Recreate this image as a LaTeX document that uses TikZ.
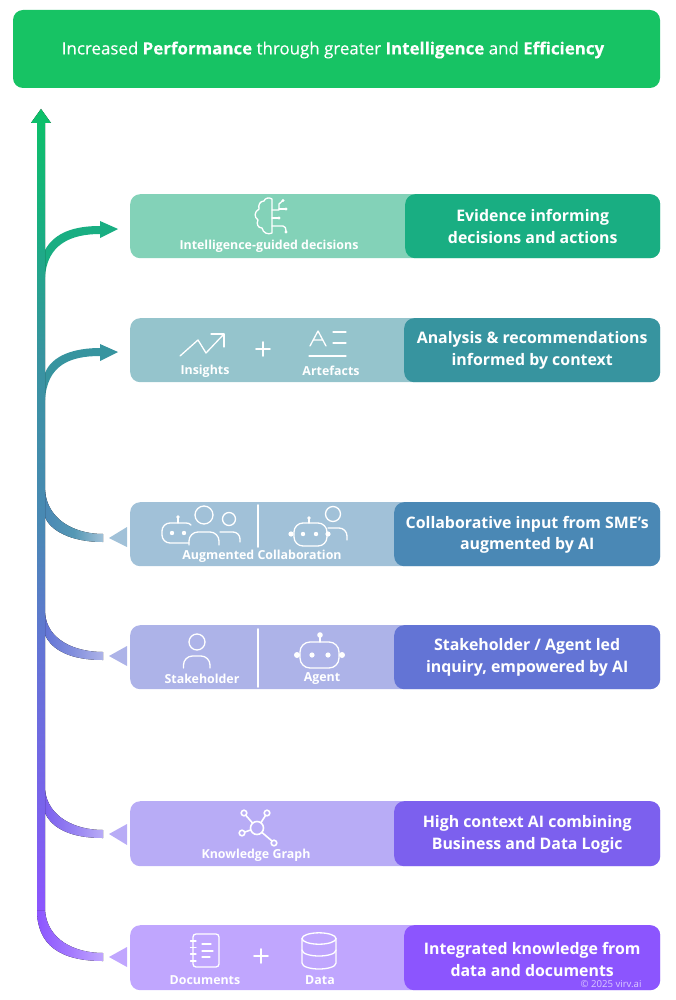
\documentclass[tikz,border=0pt]{standalone}
\usepackage{fontspec}
\setmainfont{Open Sans}
\newfontfamily\medfont[FakeBold=0.25]{Open Sans}
\definecolor{cTop}{HTML}{17C364}
\definecolor{cA}{HTML}{19AE82}\definecolor{cAl}{HTML}{83D2B8}
\definecolor{cB}{HTML}{37949F}\definecolor{cBl}{HTML}{95C4CC}
\definecolor{cC}{HTML}{4A88B5}\definecolor{cCl}{HTML}{A1C1D8}
\definecolor{cD}{HTML}{6374D5}\definecolor{cDl}{HTML}{ADB3E8}
\definecolor{cE}{HTML}{7C60EE}\definecolor{cEl}{HTML}{B8ACF6}
\definecolor{cF}{HTML}{8C55FE}\definecolor{cFl}{HTML}{C0A6FE}
\definecolor{cG}{HTML}{0CC168}
\definecolor{cCopy}{HTML}{DCCBFF}
\pgfdeclareverticalshading{trunkshade}{100bp}{color(0bp)=(cF); color(25bp)=(cF); color(30bp)=(cE); color(41.2bp)=(cD); color(48.7bp)=(cC); color(59.95bp)=(cB); color(67.45bp)=(cA); color(75bp)=(cG); color(100bp)=(cG)}
\tikzset{
  x=1pt,y=-1pt,
  lightpanel/.style={rounded corners=10pt,inner sep=0,minimum height=64pt,anchor=north west},
  darkpanel/.style={rounded corners=10pt,inner sep=0,minimum height=64pt,anchor=north west},
  darktext/.style={text=white,align=center,inner sep=0,font=\fontsize{15.9}{21.7}\selectfont\bfseries},
  toppanel/.style={fill=cTop,rounded corners=10pt,inner sep=0,minimum width=647pt,minimum height=78pt},
  toptext/.style={text=white,inner sep=0,font=\fontsize{16.9}{20}\selectfont\medfont},
  iconlabel/.style={text=white,inner sep=0,font=\fontsize{12.4}{14}\selectfont\bfseries},
  icon/.style={draw=white,line width=1.3pt,line cap=round,line join=round},
  bigline/.style={draw=white,line width=1.6pt,line cap=round},
  dot/.style={fill=white,draw=none}
}
\begin{document}
\begin{tikzpicture}
\useasboundingbox (0,0) rectangle (676,1000);
% title
\node[toppanel] (title) at (336.5,49) {};
\node[toptext] (titletext) at (333,50) {Increased {\bfseries Performance} through greater {\bfseries Intelligence} and {\bfseries Efficiency}};
% panels
\node[lightpanel,fill=cAl,minimum width=530pt] (p1) at (130,194) {};
\node[darkpanel,fill=cA,minimum width=255pt] (d1) at (405,194) {};
\node[darktext] (t1) at (d1.center) {Evidence informing\\decisions and actions};
\node[lightpanel,fill=cBl,minimum width=530pt] (p2) at (130,318) {};
\node[darkpanel,fill=cB,minimum width=256pt] (d2) at (404,318) {};
\node[darktext,yshift=-0.5pt] (t2) at (d2.center) {Analysis \& recommendations\\informed by context};
\node[lightpanel,fill=cCl,minimum width=530pt] (p3) at (130,502) {};
\node[darkpanel,fill=cC,minimum width=266pt] (d3) at (394,502) {};
\node[darktext,yshift=-0.5pt] (t3) at (d3.center) {Collaborative input from SME’s\\augmented by AI};
\node[lightpanel,fill=cDl,minimum width=530pt] (p4) at (130,625) {};
\node[darkpanel,fill=cD,minimum width=266pt] (d4) at (394,625) {};
\node[darktext,yshift=-0.5pt] (t4) at (d4.center) {Stakeholder / Agent led\\inquiry, empowered by AI};
\node[lightpanel,fill=cEl,minimum width=530pt,minimum height=65pt] (p5) at (130,801) {};
\node[darkpanel,fill=cE,minimum width=266pt,minimum height=65pt] (d5) at (394,801) {};
\node[darktext,yshift=-1pt] (t5) at (d5.center) {High context AI combining\\Business and Data Logic};
\node[lightpanel,fill=cFl,minimum width=530pt,minimum height=65pt] (p6) at (130,925) {};
\node[darkpanel,fill=cF,minimum width=256pt,minimum height=65pt] (d6) at (404,925) {};
\node[darktext,yshift=-1.5pt] (t6) at (d6.center) {Integrated knowledge from\\data and documents};
\node[text=cCopy,inner sep=0,font=\fontsize{9.6}{10}\selectfont] (copy) at (611,984.5) {© 2025 virv.ai};
% connector end points
\coordinate (e1a) at (100,226); \coordinate (e1b) at (100,234);
\coordinate (e2a) at (100,348); \coordinate (e2b) at (100,356);
\coordinate (e3a) at (103,534); \coordinate (e3b) at (103,542);
\coordinate (e4a) at (103,652); \coordinate (e4b) at (103,660);
\coordinate (e5a) at (103,830); \coordinate (e5b) at (103,838);
\coordinate (e6a) at (103,953); \coordinate (e6b) at (103,961);
% branches
\fill[left color=cF,right color=cFl,middle color=cF!55!cFl] (45,910) .. controls (47,940) and (75,953) .. (e6a) -- (e6b) .. controls (60,961) and (37,945) .. (37,910) -- cycle;
\fill[left color=cE,right color=cEl,middle color=cE!55!cEl] (45,790) .. controls (48,817) and (75,830) .. (e5a) -- (e5b) .. controls (70,838) and (52,828) .. (45,813) -- cycle;
\fill[left color=cD,right color=cDl,middle color=cD!55!cDl] (45,613) .. controls (47,640) and (75,652) .. (e4a) -- (e4b) .. controls (70,660) and (52,650) .. (45,635) -- cycle;
\fill[left color=cC,right color=cCl,middle color=cC!55!cB!80!cCl] (45,490) .. controls (47,520) and (75,534) .. (e3a) -- (e3b) .. controls (70,542) and (50,530) .. (45,517) -- cycle;
\fill[cB] (45,373) .. controls (52,355) and (75,348) .. (e2a) -- (100,344) -- (118,352) -- (100,361) -- (e2b) .. controls (70,356) and (47,365) .. (45,400) -- cycle;
\fill[cA] (45,250) .. controls (55,232) and (75,226) .. (e1a) -- (100,221) -- (118,229) -- (100,238) -- (e1b) .. controls (70,234) and (47,245) .. (45,277) -- cycle;
% trunk
\fill[shading=trunkshade] (37,910) -- (37,123) -- (31,123) -- (41,109) -- (51,123) -- (45,123) -- (45,910) -- cycle;
% triangles
\fill[cCl] (109,538) -- (127,527) -- (127,547) -- cycle;
\fill[cDl] (109,656) -- (127,646) -- (127,666) -- cycle;
\fill[cEl] (109,834) -- (127,824) -- (127,845) -- cycle;
\fill[cFl] (109,957) -- (127,947) -- (127,967) -- cycle;
% labels
\node[iconlabel] (l1) at (269,246) {Intelligence-guided decisions};
\node[iconlabel] (l2) at (205,371) {Insights};
\node[iconlabel] (l3) at (331,371) {Artefacts};
\node[iconlabel] (l4) at (262,556) {Augmented Collaboration};
\node[iconlabel] (l5) at (202,679) {Stakeholder};
\node[iconlabel] (l6) at (322,679) {Agent};
\node[iconlabel] (l7) at (256,855) {Knowledge Graph};
\node[iconlabel] (l8) at (205,980) {Documents};
\node[iconlabel] (l9) at (320,980) {Data};
% brain icon
\draw[icon] (272,199) .. controls (269,197) and (265,198) .. (264,201) .. controls (260,201) and (258,205) .. (259,209) .. controls (254,212) and (254,217) .. (258,220) .. controls (256,224) and (258,228) .. (262,228) .. controls (263,233) and (268,235) .. (272,233) -- (272,199);
\draw[icon] (272,210) -- (279,210) -- (279,204) -- (283,200.5);
\draw[icon] (279,209) -- (286,209);
\draw[icon] (272,218) -- (279,218);
\draw[icon] (272,226) -- (283,226) .. controls (285,226) and (286,228) .. (286,232);
\fill[dot] (283,200.5) circle (1.6) (286,209) circle (1.6) (279,218) circle (1.6) (286,232) circle (1.6);
% insights
\draw[icon] (180,356) -- (198,340) -- (206,353) -- (224,334);
\draw[icon] (211,334) -- (224,334) -- (224,347);
\draw[bigline] (263,342) -- (263,356) (256,349) -- (270,349);
% artefacts
\draw[icon] (310,346) -- (318,331) -- (326,346) (313,340) -- (323,340);
\draw[icon] (333,332) -- (346,332) (333,343) -- (346,343) (309,356) -- (346,356);
% augmented collaboration
\draw[icon] (191,525) .. controls (190,523.5) and (188,523) .. (186,523) -- (170,523) [rounded corners=8pt] -- (162,523) -- (162,543) -- (189,543);
\draw[icon] (178,517) -- (178,523);
\fill[dot] (178,517) circle (1.9) (172,533) circle (2.2) (184,533) circle (2.2);
\draw[icon] (204,515) circle (9);
\draw[icon,rounded corners=9pt] (189,545) -- (189,532) -- (219,532) -- (219,545);
\draw[icon] (229,519) circle (6.5);
\draw[icon,rounded corners=7pt] (220,532) -- (240,532) -- (240,542);
\draw[bigline] (258,505) -- (258,547);
\draw[icon,rounded corners=9pt] (294,523) rectangle (327,546);
\draw[icon] (309,518) -- (309,523);
\fill[dot] (291,534) circle (2.6) (328,534) circle (2.6) (309,518) circle (1.9) (303,534) circle (2.2) (316,534) circle (2.2);
\draw[icon] (333,514) circle (7.5);
\draw[icon,rounded corners=8pt] (328,528) -- (347,528) -- (347,540);
% stakeholder / agent
\draw[icon] (197,642) circle (8);
\draw[icon,rounded corners=9pt] (183.5,668) -- (183.5,656) -- (210,656) -- (210,668);
\draw[bigline] (258,629) -- (258,687);
\draw[icon,rounded corners=10pt] (300,642) rectangle (339,668);
\draw[icon] (320,635) -- (320,642);
\fill[dot] (297,655) circle (3) (342,655) circle (3) (320,635) circle (2.8) (312,655) circle (2.6) (328,655) circle (2.6);
% knowledge graph
\draw[icon,line width=1.6pt] (257,828) circle (6.5) (244,813) circle (2.8) (267,813) circle (2.8) (242,833) circle (2.8) (274,843) circle (2.8);
\draw[icon,line width=1.6pt] (246,815.5) -- (252.5,823) (265.5,815.5) -- (261,822.5) (245,832) -- (250.5,830) (262,832.5) -- (272,841);
% documents
\draw[icon,rounded corners=3pt] (193,934) rectangle (219,967);
\draw[icon] (190.5,941) -- (196,941) (190.5,947.5) -- (196,947.5) (190.5,954) -- (196,954) (190.5,961) -- (196,961);
\draw[icon] (202,944) -- (211,944) (202,951) -- (213,951) (202,957) -- (210,957);
\draw[bigline] (261,949) -- (261,963) (254,956) -- (268,956);
% data
\draw[icon] (319,938.5) ellipse (17 and 5.7);
\draw[icon] (302,938.5) -- (302,963) .. controls (302,967) and (311,969) .. (319,969) .. controls (327,969) and (336,967) .. (336,963) -- (336,938.5);
\draw[icon] (302,950) .. controls (302,954) and (311,956) .. (319,956) .. controls (327,956) and (336,954) .. (336,950);
\end{tikzpicture}
\end{document}
